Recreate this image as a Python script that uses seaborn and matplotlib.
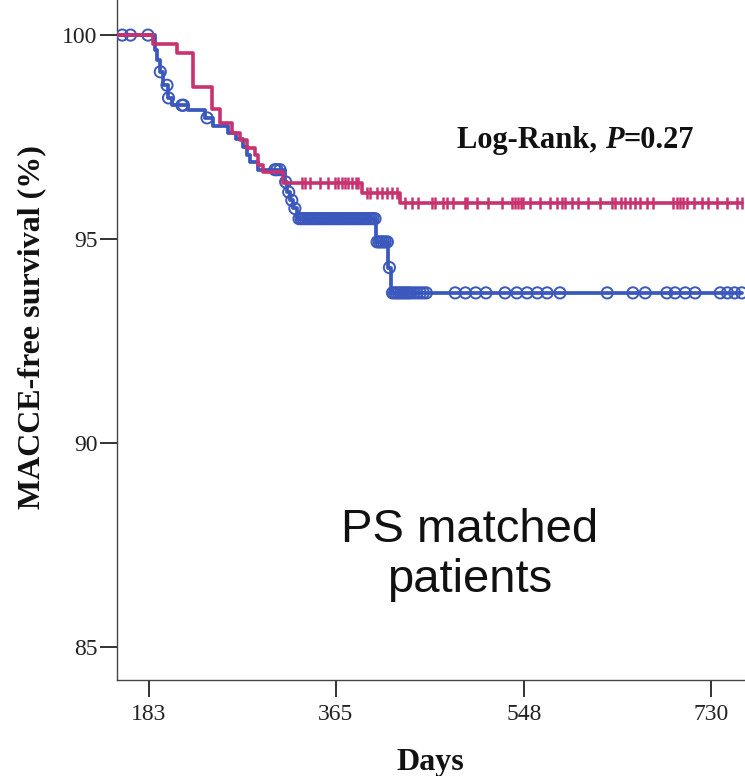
import numpy as np
import pandas as pd
import matplotlib
matplotlib.use("Agg")
import matplotlib.pyplot as plt
import seaborn as sns

# ---------------- data ----------------
x_ticks = [183, 365, 548, 730]
y_ticks = [85, 90, 95, 100]

# pink group: event days and survival (%) after each event
pink_event_days = [187, 210, 226, 244, 252, 264, 272, 278, 286, 289, 294, 313, 390, 427]
pink_event_surv = [99.78, 99.55, 98.72, 98.20, 97.84, 97.60, 97.43, 97.23, 97.06,
                   96.81, 96.64, 96.37, 96.13, 95.88]
pink_censor_days = [332, 335, 340, 349, 357, 364, 367, 371, 374, 377, 381, 384, 386,
                    395, 398, 405, 410, 415, 420, 424,
                    432, 439, 445, 458, 461, 469, 473, 479, 491, 493, 502, 513, 527,
                    536, 539, 542, 545, 547, 554, 564, 573, 580, 585, 588, 595, 601,
                    610, 622, 634, 637, 642, 646, 651, 656, 661, 668, 674,
                    693, 697, 700, 703, 707, 713, 721, 727, 736, 746, 755, 760]

# blue group
blue_event_days = [189, 191, 194, 197, 201.5, 205, 221, 237.5, 245, 260, 268, 274.5,
                   278.5, 281.5, 289, 315.5, 317.5, 320.5, 323.5, 327, 404, 415.6, 418.5]
blue_event_surv = [99.63, 99.39, 99.10, 98.77, 98.46, 98.28, 98.16, 97.97, 97.77, 97.60,
                   97.45, 97.25, 97.05, 96.90, 96.70, 96.40, 96.15, 95.95, 95.75, 95.50,
                   94.93, 94.30, 93.68]
blue_censor_days = [157, 165, 182, 194, 200.5, 202, 215, 216.5, 239.5, 305.5, 307.5, 310.5,
                    316, 319, 322, 325,
                    329, 331, 333, 335, 337, 339, 341, 343, 345, 347, 349, 351, 353, 355,
                    357, 359, 361, 363, 365, 367, 369, 371, 373, 375, 377, 379, 381, 383,
                    385, 387, 389, 391, 393, 395, 397, 399, 401, 403,
                    405, 407, 409, 411, 413, 415, 417,
                    420, 422, 424, 426, 428, 430, 432, 434, 436, 438, 441, 444, 447, 450, 453,
                    481, 491, 501, 511, 529.5, 541, 551, 561, 570.5, 583,
                    629, 654, 666, 687, 695, 705, 714.5, 739, 746, 753, 760]

start_day = 0
x_label = "Days"
y_label = "MACCE-free survival (%)"
stat_text_1 = "Log-Rank, "
stat_text_2 = "P"
stat_text_3 = "=0.27"
note_line_1 = "PS matched"
note_line_2 = "patients"

blue_col = "#3b58bc"
pink_col = "#c8326f"

# ---------------- build step tables ----------------
def step_table(event_days, event_surv, censor_days, group):
    t = [start_day] + list(event_days) + [max(censor_days)]
    s = [100.0] + list(event_surv) + [event_surv[-1]]
    line = pd.DataFrame({"day": t, "surv": s, "group": group})
    ev = np.array(event_days, dtype=float)
    sv = np.array([100.0] + list(event_surv))
    idx = np.searchsorted(ev, np.array(censor_days, dtype=float), side="right")
    cens = pd.DataFrame({"day": censor_days, "surv": sv[idx], "group": group})
    return line, cens

blue_line, blue_cens = step_table(blue_event_days, blue_event_surv, blue_censor_days, "blue")
pink_line, pink_cens = step_table(pink_event_days, pink_event_surv, pink_censor_days, "pink")

# ---------------- figure ----------------
sns.set_theme(style="white")
plt.rcParams["font.family"] = ["Liberation Serif", "DejaVu Serif"]

W, H = 745, 776
fig = plt.figure(figsize=(W / 100, H / 100), dpi=100)
ax = fig.add_axes([117 / W, 96 / H, 628 / W, 680 / H])

sns.lineplot(data=blue_line, x="day", y="surv", drawstyle="steps-post", estimator=None,
             sort=False, color=blue_col, linewidth=2.7, ax=ax, zorder=3)
sns.scatterplot(data=blue_cens, x="day", y="surv", marker="o", s=65, facecolor="none",
                edgecolor=blue_col, linewidth=1.4, ax=ax, zorder=4)
sns.lineplot(data=pink_line, x="day", y="surv", drawstyle="steps-post", estimator=None,
             sort=False, color=pink_col, linewidth=2.6, ax=ax, zorder=5)
sns.scatterplot(data=pink_cens, x="day", y="surv", marker="|", s=70, color=pink_col,
                linewidth=1.8, ax=ax, zorder=6)

ax.set_xlim(151.85, 763.1)
ax.set_ylim(84.19, 100.86)
ax.set_xticks(x_ticks)
ax.set_yticks(y_ticks)
ax.set_xlabel("")
ax.set_ylabel("")
for sp in ["top", "right"]:
    ax.spines[sp].set_visible(False)
for sp in ["left", "bottom"]:
    ax.spines[sp].set_color("#444444")
    ax.spines[sp].set_linewidth(1.0)
ax.tick_params(axis="both", direction="out", length=12, width=1.4, color="#333333",
               labelsize=17, labelcolor="#222222")
ax.tick_params(axis="x", pad=5, bottom=True)
ax.tick_params(axis="y", pad=2, left=True)

fig.text(32 / W, 1 - 327 / H, y_label, rotation=90, ha="center", va="center",
         fontsize=23, fontweight="bold", color="#111111")
fig.text(430 / W, 1 - 770 / H, x_label, ha="center", va="baseline",
         fontsize=23, fontweight="bold", color="#111111")

t1 = fig.text(457 / W, 1 - 148 / H, stat_text_1, ha="left", va="baseline",
              fontsize=22, fontweight="bold", color="#111111")
t2 = ax.annotate(stat_text_2, xy=(1, 0), xycoords=t1, ha="left", va="bottom",
                 fontsize=22, fontweight="bold", fontstyle="italic", color="#111111")
t3 = ax.annotate(stat_text_3, xy=(1, 0), xycoords=t2, ha="left", va="bottom",
                 fontsize=22, fontweight="bold", color="#111111")

fig.text(470 / W, 1 - 542 / H, note_line_1, ha="center", va="baseline",
         fontsize=34, family="Liberation Sans", color="#111111")
fig.text(470 / W, 1 - 592 / H, note_line_2, ha="center", va="baseline",
         fontsize=34, family="Liberation Sans", color="#111111")

fig.savefig("out.png", dpi=100)
